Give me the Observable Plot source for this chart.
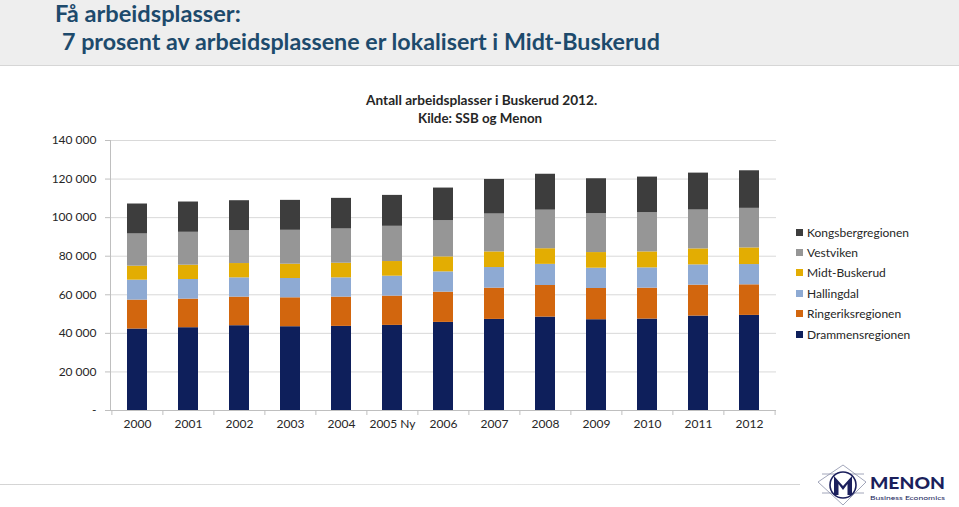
<!DOCTYPE html>
<html><head><meta charset="utf-8">
<script src="https://cdn.jsdelivr.net/npm/d3@7"></script>
<script src="https://cdn.jsdelivr.net/npm/@observablehq/plot@0.6"></script>
<style>
body{margin:0;background:#fff;font-family:Lato,"Open Sans",sans-serif;}
#wrap{position:relative;width:959px;height:507px;overflow:hidden;background:#fff}
#header{position:absolute;left:0;top:0;width:959px;height:65px;background:#eeeeee;border-bottom:1px solid #d6d6d6}
.t{position:absolute;white-space:nowrap;color:#1d4a6c;font-weight:700;transform-origin:0 50%;line-height:1}
.ct{position:absolute;white-space:nowrap;color:#262626;font-weight:700;font-size:14px;line-height:1;transform-origin:50% 50%}
#chart{position:absolute;left:0;top:66px}
#legend{position:absolute;left:796px;top:222px;font-size:12px;color:#262626}
#legend .row{height:20.4px;display:flex;align-items:center}
#legend .sw{width:7px;height:7px;margin-right:4px}
#footline{position:absolute;left:0;top:484px;width:800px;height:1px;background:linear-gradient(90deg,#d4d4d4,#e6e6e6 60%,#d4d4d4)}
#logo{position:absolute;left:812px;top:462px}
</style>
</head><body>
<div id="wrap">
  <div id="header">
    <div class="t" id="t1" style="left:55px;top:2px;font-size:23px">Få arbeidsplasser:</div>
    <div class="t" id="t2" style="left:62px;top:30px;font-size:23px">7 prosent av arbeidsplassene er lokalisert i Midt-Buskerud</div>
  </div>
  <div class="ct" id="c1" style="top:93px">Antall arbeidsplasser i Buskerud 2012.</div>
  <div class="ct" id="c2" style="top:111px">Kilde: SSB og Menon</div>
  <div id="chart"></div>
  <div id="legend"></div>
  <div id="footline"></div>
  <svg id="logo" width="147" height="45" viewBox="0 0 147 45">
    <g fill="none" stroke="#8a8fa8" stroke-width="0.8">
      <path d="M6 20 L31 3 L54 20 L31 43 Z"/>
      <path d="M10 12 L52 12 M10 31 L52 31"/>
    </g>
    <circle cx="31" cy="23" r="13" fill="#fff" stroke="#1b1f5c" stroke-width="1.6"/>
    <path d="M22 33 L22 14 L31 24 L40 14 L40 33 L35.5 33 L35.5 22 L31 28 L26.5 22 L26.5 33 Z" fill="#1b1f5c"/>
    <text x="58" y="26.5" textLength="75" lengthAdjust="spacingAndGlyphs" font-family="Lato, 'Open Sans', sans-serif" font-weight="900" font-size="17" fill="#1b1f5c">MENON</text>
    <text x="58" y="37.5" textLength="75" lengthAdjust="spacingAndGlyphs" font-family="Lato, 'Open Sans', sans-serif" font-size="6.5" fill="#1b1f5c">Business Economics</text>
  </svg>
</div>
<script>
const years = ["2000","2001","2002","2003","2004","2005 Ny","2006","2007","2008","2009","2010","2011","2012"];
const regions = ["Drammensregionen","Ringeriksregionen","Hallingdal","Midt-Buskerud","Vestviken","Kongsbergregionen"];
const colors = ["#0e1f5b","#d2660e","#8eaad3","#e3ad02","#969696","#3d3d3d"];
const drammen    = [42240,42930,43960,43440,43620,44130,45690,47240,48440,47070,47410,48960,49310];
const ringerike  = [15000,14820,14830,15000,15170,15180,15680,16200,16380,16200,16030,16030,15860];
const hallingdal = [10350,10180,10000,10000,10000,10340,10520,10690,10960,10520,10520,10520,10510];
const midt       = [7240,7410,7410,7420,7580,7590,7760,8100,8100,8100,8270,8280,8620];
const vestviken  = [16720,17070,17070,17580,17760,18270,18790,19660,20000,20170,20350,20170,20520];
const kongsberg  = [15520,15690,15510,15520,15870,16030,16900,17930,18620,18100,18450,19130,19480];
const series = [drammen, ringerike, hallingdal, midt, vestviken, kongsberg];
const yTicks = [0,20000,40000,60000,80000,100000,120000,140000];

const data = years.flatMap((y,i)=>regions.map((r,j)=>({year:y, region:r, value:series[j][i]})));
const fmt = d => d === 0 ? "-" : d3.format(",")(d).replace(/,/g," ");

const W = 959, H = 380, mL = 110, mR = 183;
const half = (W - mL - mR) / years.length / 2;

const chart = Plot.plot({
  width: W, height: H, marginTop: 74, marginBottom: 36, marginLeft: mL, marginRight: mR,
  style: {fontFamily: "Lato, 'Open Sans', sans-serif", fontSize: "12px", color: "#262626", background: "transparent"},
  x: {domain: years, paddingInner: 0.6, paddingOuter: 0.3, label: null},
  y: {domain: [0,140000], label: null},
  color: {domain: regions, range: colors},
  marks: [
    Plot.gridY({ticks: yTicks, stroke: "#d9d9d9", strokeOpacity: 1}),
    Plot.barY(data, {x: "year", y: "value", fill: "region", z: "region", order: regions}),
    Plot.frame({anchor: "left", stroke: "#bfbfbf"}),
    Plot.ruleY([0], {stroke: "#bfbfbf"}),
    Plot.axisY({ticks: yTicks, tickSize: 5, tickPadding: 9, tickFormat: fmt, stroke: "#bfbfbf", fill: "#262626", label: null}),
    Plot.axisX({tickSize: 0, tickPadding: 9, fill: "#262626", label: null}),
    Plot.axisX({tickSize: 5, tickFormat: () => "", stroke: "#bfbfbf", dx: -half, label: null}),
    Plot.axisX({ticks: [years[years.length-1]], tickSize: 5, tickFormat: () => "", stroke: "#bfbfbf", dx: half, label: null})
  ]
});
document.getElementById("chart").appendChild(chart);

// legend
const leg = document.getElementById("legend");
for (let j = regions.length - 1; j >= 0; j--) {
  const row = document.createElement("div"); row.className = "row";
  const sw = document.createElement("div"); sw.className = "sw"; sw.style.background = colors[j];
  const tx = document.createElement("span"); tx.textContent = regions[j];
  row.appendChild(sw); row.appendChild(tx); leg.appendChild(row);
}

// fit title widths to reference proportions
function fit(id, w) { const el = document.getElementById(id); el.style.transform = `scaleX(${w / el.offsetWidth})`; }
fit("t1", 186); fit("t2", 598);
function center(id, cx, w) { const el = document.getElementById(id); el.style.left = (cx - el.offsetWidth/2) + "px"; el.style.transform = `scaleX(${w / el.offsetWidth})`; }
center("c1", 481, 231); center("c2", 480, 124);
</script>
</body></html>
